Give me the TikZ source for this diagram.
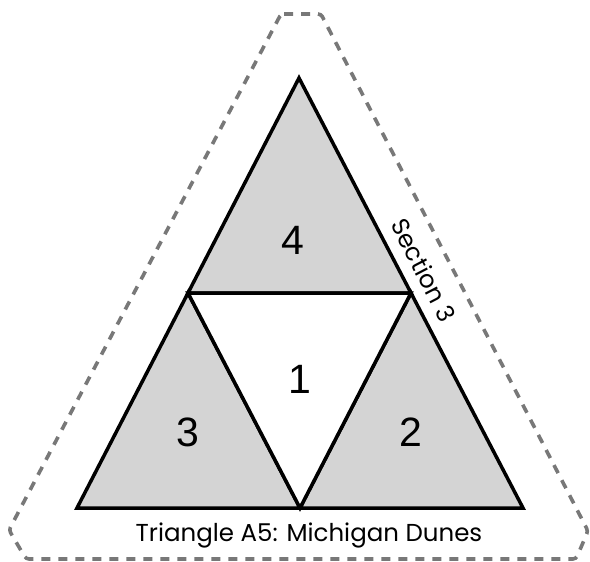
\documentclass[tikz,border=0pt]{standalone}
\usepackage{fontspec}
\setmainfont{Liberation Sans}
\newfontfamily\gothicfont{Poppins}
\usetikzlibrary{positioning}
\tikzset{
  piece/.style={draw=black, line width=3.5pt, line join=miter},
  shaded/.style={piece, fill=black!17},
  border/.style={draw=black!53, line width=3.6pt, dash pattern=on 9pt off 8pt,
                 rounded corners=3pt},
  num/.style={font=\fontsize{41}{41}\selectfont, inner sep=0pt},
  caption/.style={font=\gothicfont\fontsize{24.5}{24.5}\selectfont, inner sep=0pt},
}

\begin{document}
\begin{tikzpicture}[x=1pt, y=-1pt]

\useasboundingbox (0,0) rectangle (590,562);

% corners of the big triangle and its side midpoints
\coordinate (top) at (299,78);
\coordinate (lft) at (77,508);
\coordinate (rgt) at (523,508);
\coordinate (ml) at (188,293);
\coordinate (mr) at (411,293);
\coordinate (mb) at (300,508);

% dashed outline of the area
\draw[border] (281,14) -- (321,14) -- (588,531) -- (576,559) -- (26,559)
  -- (9,530) -- cycle;

\filldraw[shaded] (top) -- (mr) -- (ml) -- cycle;
\filldraw[shaded] (ml) -- (mb) -- (lft) -- cycle;
\filldraw[shaded] (mr) -- (rgt) -- (mb) -- cycle;
\filldraw[piece, fill=white] (ml) -- (mr) -- (mb) -- cycle;

\node[num] (n4) at (293,240) {4};
\node[num] (n1) at (300,379) {1};
\node[num] (n3) at (188,432) {3};
\node[num] (n2) at (411,432) {2};

\node[caption] (sec) at (424,270) [rotate=-62.5] {Section 3};
\node[caption] (name) at (309,535) {Triangle A5: Michigan Dunes};

\end{tikzpicture}
\end{document}
